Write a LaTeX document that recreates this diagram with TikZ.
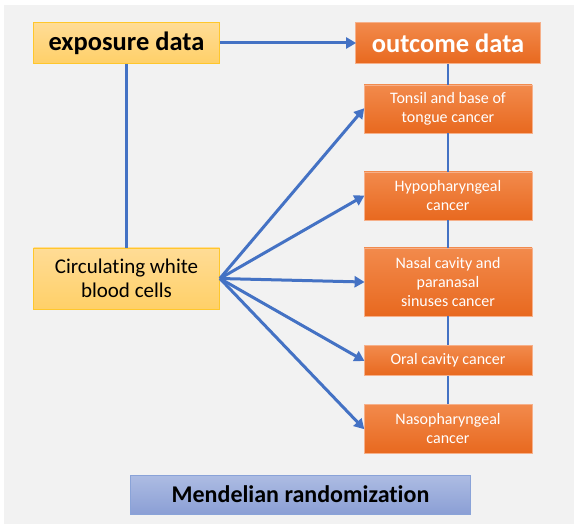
\documentclass[tikz,border=0pt]{standalone}
\usepackage{fontspec}
\setmainfont[Ligatures=NoCommon]{Carlito}
\usetikzlibrary{arrows.meta}
\definecolor{bg}{HTML}{F2F2F2}
\definecolor{ylTop}{HTML}{FFDC96}
\definecolor{ylBot}{HTML}{FFD068}
\definecolor{ylBorder}{HTML}{FFC72C}
\definecolor{orTop}{HTML}{F28A4C}
\definecolor{orBot}{HTML}{E8691F}
\definecolor{orBorder}{HTML}{F6B08A}
\definecolor{blTop}{HTML}{ADBCE3}
\definecolor{blBot}{HTML}{8B9FD5}
\definecolor{blBorder}{HTML}{8AA3D8}
\definecolor{lineblue}{HTML}{4472C4}
\tikzset{
  ybox/.style={draw=ylBorder, line width=0.8pt, top color=ylTop, bottom color=ylBot, text=black, align=center, inner sep=0pt},
  obox/.style={draw=orBorder, line width=0.8pt, top color=orTop, bottom color=orBot, text=white, align=center, inner sep=0pt},
  bbox/.style={draw=blBorder, line width=0.8pt, top color=blTop, bottom color=blBot, text=black, align=center, inner sep=0pt},
  conn/.style={draw=lineblue, line width=2.2pt},
  arr/.style={draw=lineblue, line width=3pt, -{Triangle[length=10pt,width=11pt]}, shorten >=-1pt},
  smalltxt/.style={font=\fontsize{16}{19}\selectfont},
}
\begin{document}
\begin{tikzpicture}[x=1pt,y=-1pt]
\useasboundingbox (0,0) rectangle (574,524);
\fill[white] (0,0) rectangle (574,524);
\fill[bg] (4,5) rectangle (574,524);
% boxes
\node[ybox, minimum width=186pt, minimum height=41pt, font=\fontsize{26.5}{30}\bfseries\selectfont] (exp) at (126.5,43) {exposure data};
\node[obox, minimum width=185pt, minimum height=41pt, font=\fontsize{26.5}{30}\bfseries\selectfont] (out) at (448,43) {outcome data};
\node[ybox, minimum width=186pt, minimum height=61pt, font=\fontsize{21}{24}\selectfont] (wbc) at (126.5,278.5) {Circulating white\\blood cells};
\node[obox, smalltxt, minimum width=168pt, minimum height=48pt] (c1) at (448,109) {Tonsil and base of\\tongue cancer};
\node[obox, smalltxt, minimum width=168pt, minimum height=48pt] (c2) at (448,196) {Hypopharyngeal\\cancer};
\node[obox, smalltxt, minimum width=168pt, minimum height=68pt] (c3) at (448,282) {Nasal cavity and\\paranasal\\sinuses cancer};
\node[obox, smalltxt, minimum width=168pt, minimum height=30pt] (c4) at (448,360.5) {Oral cavity cancer};
\node[obox, smalltxt, minimum width=168pt, minimum height=49pt] (c5) at (448,428.5) {Nasopharyngeal\\cancer};
\node[bbox, minimum width=340pt, minimum height=39pt, font=\fontsize{24}{28}\bfseries\selectfont] (mr) at (300.5,494.5) {Mendelian randomization};
% vertical connectors
\draw[conn] (exp.south) -- (wbc.north);
\draw[conn] (out.south) -- (c1.north);
\draw[conn] (c1.south) -- (c2.north);
\draw[conn] (c2.south) -- (c3.north);
\draw[conn] (c3.south) -- (c4.north);
\draw[conn] (c4.south) -- (c5.north);
% arrows
\draw[arr] (exp.east) -- (out.west);
\coordinate (src) at (wbc.east);
\draw[arr] (src) -- (c1.west);
\draw[arr] (src) -- (c2.west);
\draw[arr] (src) -- (c3.west);
\draw[arr] (src) -- (c4.west);
\draw[arr] (src) -- (c5.west);
\end{tikzpicture}
\end{document}
